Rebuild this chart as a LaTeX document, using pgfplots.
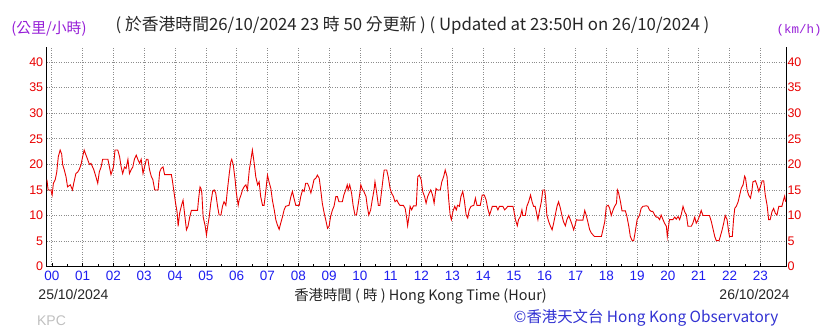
\documentclass[border=0pt]{standalone}
\usepackage{pgfplots}
\pgfplotsset{compat=1.18}
\usepackage{fontspec}
\setmainfont{Liberation Sans}
\newfontfamily\cjk{Noto Sans CJK TC}
\newfontfamily\mono{Liberation Mono}
\definecolor{lred}{RGB}{232,0,0}
\definecolor{xblue}{RGB}{30,30,240}
\definecolor{ppl}{RGB}{150,30,215}
\definecolor{hkoblue}{RGB}{50,50,210}
\definecolor{gridgray}{RGB}{140,140,140}
\begin{document}
\begin{tikzpicture}[x=1pt,y=1pt]
\useasboundingbox (0,0) rectangle (838,331);
\begin{axis}[
  at={(46.7pt,64.3pt)}, anchor=south west,
  scale only axis, width=739.3pt, height=220pt,
  xmin=-0.1667, xmax=23.8333, ymin=0, ymax=43,
  axis x line*=bottom, axis y line*=left,
  xtick={0,...,23},
  xticklabels={00,01,02,03,04,05,06,07,08,09,10,11,12,13,14,15,16,17,18,19,20,21,22,23},
  minor x tick num=1,
  ytick={0,5,...,40},
  /pgf/number format/assume math mode=true,
  grid=major,
  major grid style={gridgray, dotted, line width=0.7pt},
  xtick align=inside,
  major tick length=4pt, minor tick length=2.5pt,
  ytick style={draw=none},
  xtick style={black, line width=0.6pt},
  axis line style={black, line width=0.8pt},
  xticklabel style={text=xblue, font=\fontsize{13.5}{14}\selectfont, yshift=-1pt},
  yticklabel style={text=lred, font=\fontsize{12.5}{13}\selectfont},
  clip=true,
]
\addplot[lred, line width=0.9pt] coordinates {
(-0.16,17) (-0.12,15) (-0.03,15) (0.01,14) (0.05,16.3) (0.11,17) (0.16,18.5) (0.21,21.5) (0.27,22.8) (0.32,22) (0.35,20) (0.40,19) (0.46,17.6) (0.51,15.6) (0.60,16) (0.67,15) (0.71,16.3) (0.78,18.2) (0.84,18.5) (0.89,19) (0.95,20) (1.00,21.5) (1.05,22.8) (1.11,21.8) (1.16,21) (1.22,20) (1.27,20.2) (1.36,19) (1.43,17.6) (1.49,16.3) (1.54,18.5) (1.60,19.5) (1.65,21) (1.82,21) (1.87,19.5) (1.92,18) (2.00,19.5) (2.05,22.8) (2.14,22.8) (2.20,21.5) (2.25,19.5) (2.30,18.2) (2.36,19.5) (2.41,19.2) (2.47,21) (2.52,18.2) (2.58,19) (2.63,19.5) (2.68,21) (2.74,21.8) (2.79,21) (2.85,20.2) (2.90,21) (2.96,18.2) (3.01,19.5) (3.07,21) (3.12,21) (3.17,19) (3.23,17.6) (3.28,17) (3.34,15) (3.45,15) (3.50,18.5) (3.55,19.2) (3.61,19.5) (3.66,18) (3.88,18) (3.91,17) (3.97,14.4) (4.01,12.7) (4.07,10.5) (4.10,7.9) (4.15,10.5) (4.21,12) (4.26,13) (4.32,9.8) (4.37,7.2) (4.42,7.9) (4.48,9.8) (4.53,11)
(4.57,11) (4.73,11) (4.76,13) (4.81,15.6) (4.84,15.3) (4.87,14.4) (4.91,9.8) (4.98,7.9) (5.02,6.2) (5.06,7.9) (5.11,9.8) (5.16,12.4) (5.22,14.7) (5.27,15) (5.32,14.4) (5.38,11.8) (5.43,10.1) (5.49,10.1) (5.54,11.8) (5.59,12.7) (5.65,12) (5.70,15) (5.76,18.2) (5.81,20.5) (5.84,21) (5.89,19.9) (5.95,17) (5.99,14.4) (6.05,12) (6.08,13) (6.14,14) (6.19,15) (6.24,15.6) (6.30,16) (6.35,15) (6.41,18.9) (6.46,20.8) (6.51,22.8) (6.57,20.2) (6.62,17.6) (6.68,16) (6.73,16.6) (6.78,13.7) (6.84,12) (6.89,12) (6.95,15) (7.00,17.9) (7.05,16.6) (7.11,15.3) (7.16,13) (7.22,11.1) (7.27,9.2) (7.32,8.2) (7.38,7.3) (7.43,8.5) (7.49,9.8) (7.54,11.1) (7.59,11.8) (7.70,12) (7.76,13.7) (7.81,14.7) (7.86,13.4) (7.92,12) (8.03,12) (8.08,13.7) (8.14,15) (8.19,14.7) (8.24,16.3) (8.30,16.3) (8.35,15.6) (8.41,14.4) (8.46,15.6) (8.51,17) (8.57,17.3) (8.62,17.9) (8.68,17.3) (8.73,15) (8.78,12.4) (8.84,10.5) (8.89,9.2) (8.95,7.5) (9.00,7.9) (9.05,9.8) (9.11,11.1) (9.16,11.8) (9.22,13.7) (9.27,13.7) (9.32,12.7)
(9.43,12.7) (9.48,14) (9.54,15) (9.59,16) (9.62,15) (9.67,16) (9.73,14.4) (9.78,12) (9.84,10.1) (9.89,10.1) (9.95,12.4) (10.00,14.4) (10.03,16) (10.09,15) (10.13,14.7) (10.20,13.7) (10.24,11.8) (10.29,10.1) (10.35,11.1) (10.40,13) (10.46,15) (10.49,16.6) (10.54,14.7) (10.60,12) (10.65,12) (10.71,15) (10.76,17.6) (10.79,18.9) (10.87,18.9) (10.92,17.6) (10.98,15.3) (11.03,14.4) (11.09,13.7) (11.14,12.7) (11.20,13) (11.25,12.4) (11.30,12) (11.41,12) (11.47,11.4) (11.52,9.5) (11.55,8) (11.60,10.1) (11.63,11.8) (11.68,11.1) (11.74,11.9) (11.83,11.9) (11.88,17.6) (11.93,17.9) (11.99,17) (12.04,14.7) (12.10,13.7) (12.15,12.4) (12.20,13.7) (12.25,14.4) (12.30,15) (12.36,14) (12.41,12.4) (12.47,15.3) (12.52,15) (12.61,15) (12.66,16.6) (12.72,17.6) (12.77,18.9) (12.83,17.6) (12.88,13.4) (12.93,10.1) (12.97,9.2) (13.02,10.8) (13.08,11.8) (13.13,11.1) (13.17,12) (13.23,11.8) (13.28,13.7) (13.34,14.7) (13.39,13) (13.45,10.1) (13.50,9.5) (13.55,11.1) (13.61,11.8) (13.70,12) (13.75,13.4) (13.80,12) (13.91,12) (13.97,14) (14.04,14) (14.10,13) (14.15,11.4) (14.21,10.1)
(14.30,11.8) (14.43,11.8) (14.48,11.1) (14.53,11.8) (14.64,11.8) (14.70,11.1) (14.75,11.4) (14.80,11.8) (14.97,11.8) (15.00,10.9) (15.05,9.2) (15.11,8) (15.15,9.2) (15.21,9.8) (15.26,11.1) (15.29,10) (15.37,10) (15.42,11.8) (15.48,12.7) (15.54,14) (15.59,12.7) (15.64,11.8) (15.69,11.8) (15.75,10.1) (15.78,9.2) (15.83,10.9) (15.89,12.7) (15.94,15) (16.00,15) (16.03,13.4) (16.07,10.1) (16.13,8.8) (16.18,8) (16.24,7.2) (16.29,8.5) (16.34,10) (16.40,11.8) (16.45,12.7) (16.51,11.4) (16.56,10) (16.61,8.8) (16.67,8) (16.72,9.2) (16.78,10) (16.83,9.2) (16.89,8.2) (16.94,7.2) (16.99,8.2) (17.03,9.2) (17.08,9.1) (17.24,9.1) (17.30,11) (17.35,10) (17.41,8.5) (17.46,7.2) (17.51,6.6) (17.57,6.2) (17.62,5.9) (17.84,5.9) (17.89,7.2) (17.95,8.8) (18.00,11.8) (18.06,12) (18.11,11.4) (18.16,10) (18.22,11.1) (18.27,11.8) (18.33,12.4) (18.36,15) (18.40,14.4) (18.46,12.7) (18.51,10.9) (18.62,10.9) (18.67,9.8) (18.73,7.9) (18.78,5.9) (18.84,5.1) (18.89,5.1) (18.94,6.9) (19.00,9.2)
(19.08,10.1) (19.13,11.4) (19.19,11.8) (19.30,11.9) (19.35,11.8) (19.40,11.1) (19.46,10.8) (19.51,10.8) (19.57,10.1) (19.62,9.7) (19.67,9.7) (19.73,9.2) (19.78,10.1) (19.84,9.2) (19.89,8.5) (19.95,7.9) (19.98,5.9) (20.02,7.9) (20.05,9.2) (20.16,9.2) (20.22,9.7) (20.27,9.3) (20.33,9.8) (20.38,9.2) (20.43,10.1) (20.49,11.8) (20.54,10.8) (20.60,10.1) (20.65,7.9) (20.76,7.9) (20.81,8.5) (20.87,9.7) (20.92,8.5) (20.98,9.2) (21.03,10) (21.08,11) (21.14,10) (21.35,10) (21.41,8.8) (21.46,7.5) (21.52,5.9) (21.57,5.1) (21.66,5.1) (21.70,5.9) (21.76,7.2) (21.81,8.5) (21.86,10) (21.92,9.2) (21.97,6.9) (22.00,5.9) (22.09,5.9) (22.13,9.2) (22.17,11.4) (22.22,11.8) (22.28,12.7) (22.33,14) (22.38,15.3) (22.44,16) (22.49,17.7) (22.52,17.3) (22.57,15) (22.62,14) (22.68,13.4) (22.73,15) (22.76,16.6) (22.84,16.8) (22.89,16) (22.95,14.7) (23.00,15.6) (23.06,16.8) (23.11,16.8) (23.16,14) (23.22,12) (23.27,9.2) (23.32,9.2) (23.38,10.8) (23.43,11.4) (23.49,10.4) (23.54,10.1) (23.60,11.8) (23.70,11.8) (23.75,13) (23.79,13.8) (23.82,12.7)
};
\end{axis}
\begin{axis}[
  at={(46.7pt,64.3pt)}, anchor=south west,
  scale only axis, width=739.3pt, height=220pt,
  xmin=-0.1667, xmax=23.8333, ymin=0, ymax=43,
  axis x line=none, axis y line*=right,
  xtick=\empty,
  ytick={0,5,...,40},
  /pgf/number format/assume math mode=true,
  ytick style={draw=none},
  axis line style={black, line width=0.8pt},
  yticklabel style={text=lred, font=\fontsize{12.5}{13}\selectfont, xshift=-2pt},
]
\addplot[draw=none] coordinates {(0,0)};
\end{axis}
\node[text=black!85, font=\cjk\fontsize{16.8}{19}\selectfont] at (412.5,306) {( 於香港時間26/10/2024 23 時 50 分更新 ) ( Updated at 23:50H on 26/10/2024 )};
\node[text=ppl, font=\cjk\fontsize{14.8}{16}\selectfont] at (49,302) {(公里/小時)};
\node[text=ppl, font=\mono\fontsize{12.5}{14}\selectfont] at (799,301) {(km/h)};
\node[text=black!85, font=\fontsize{14}{16}\selectfont] at (73.5,36) {25/10/2024};
\node[text=black!85, font=\cjk\fontsize{14.4}{16}\selectfont] at (420.5,35) {香港時間 ( 時 ) Hong Kong Time (Hour)};
\node[text=black!85, font=\fontsize{14}{16}\selectfont] at (754.5,36) {26/10/2024};
\node[text=black!25, font=\fontsize{14}{16}\selectfont] at (51.5,10) {KPC};
\node[text=hkoblue, font=\cjk\fontsize{15.4}{18}\selectfont] at (646,13) {©香港天文台 Hong Kong Observatory};
\end{tikzpicture}
\end{document}
